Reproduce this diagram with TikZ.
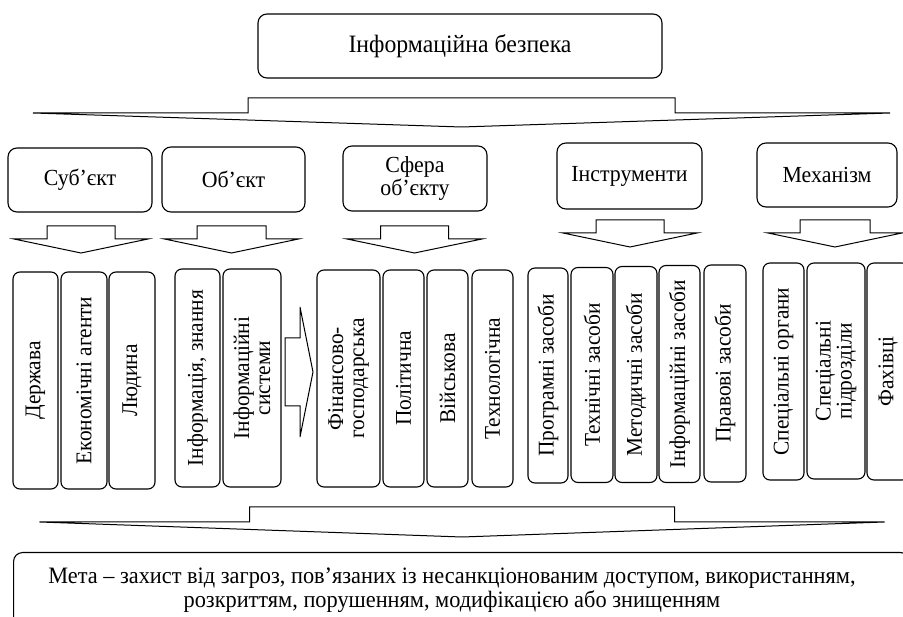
\documentclass[tikz,border=0pt]{standalone}
\usepackage{fontspec}
\setmainfont[FakeStretch=0.95]{Liberation Serif}
\usepackage{tikz}
\usetikzlibrary{calc, positioning}

% block arrow pointing down: centre x, half stem, half head, top, shoulder, tip
\newcommand{\blockdown}[6]{%
  \draw[arrline] ({#1-#2},#4) -- ({#1+#2},#4) -- ({#1+#2},#5) -- ({#1+#3},#5)
    -- (#1,#6) -- ({#1-#3},#5) -- ({#1-#2},#5) -- cycle;}

\begin{document}
\begin{tikzpicture}[x=1pt, y=-1pt,
    box/.style={draw, line width=1.1pt, rounded corners=9pt, align=center,
      inner sep=0pt, font=\fontsize{23}{24}\selectfont},
    vbox/.style={draw, line width=1.1pt, rounded corners=7pt, align=center,
      inner sep=0pt, rotate=90, font=\fontsize{22.5}{23}\selectfont},
    arrline/.style={line width=1pt, line join=miter}]
    \useasboundingbox (0,0) rectangle (903,617);
    \clip (0,0) rectangle (903,617);

    % Головний блок
    \node[box, minimum width=404pt, minimum height=64pt,
      font=\fontsize{25}{26}\selectfont] (ib) at (460,46) {Інформаційна безпека};
    \blockdown{461.5}{213.5}{428.5}{98}{113}{127}

    % Складові
    \node[box, minimum width=144pt, minimum height=64pt] (sub) at (80,180) {Суб’єкт};
    \node[box, minimum width=143pt, minimum height=65pt] (obj) at (233.5,179.5) {Об’єкт};
    \node[box, minimum width=144pt, minimum height=65pt] (sfera) at (415,178.5) {Сфера\\[-1pt]об’єкту};
    \node[box, minimum width=145pt, minimum height=66pt] (instr) at (629.5,176) {Інструменти};
    \node[box, minimum width=140pt, minimum height=64pt] (mekh) at (827,175) {Механізм};

    % Стрілки до стовпців
    \blockdown{81}{34}{67}{226}{239}{253}
    \blockdown{231.5}{34.5}{67}{226}{239}{253}
    \blockdown{414.5}{34}{67.5}{226}{239}{253}
    \blockdown{630}{34}{67}{220}{233}{247}
    \blockdown{835}{35}{67}{220}{233}{247}

    % Суб'єкт
    \node[vbox, minimum width=217pt, minimum height=45pt] (derzh) at (35.5,380.5) {Держава};
    \node[vbox, minimum width=217pt, minimum height=46pt] (ekon) at (84,380.5) {Економічні агенти};
    \node[vbox, minimum width=217pt, minimum height=46pt] (lyud) at (132,380.5) {Людина};

    % Об'єкт
    \node[vbox, minimum width=218pt, minimum height=45pt] (infzn) at (197.5,378) {Інформація, знання};
    \node[vbox, minimum width=218pt, minimum height=58pt] (infsys) at (252,378) {Інформаційні\\[-2pt]системи};
    \draw[arrline] (285,338) -- (300,338) -- (300,307) -- (313,372) -- (300,437)
      -- (300,406) -- (285,406) -- cycle;

    % Сфера об'єкту
    \node[vbox, minimum width=217pt, minimum height=63pt] (fin) at (348.5,378.5) {Фінансово-\\[-2pt]господарська};
    \node[vbox, minimum width=217pt, minimum height=41pt] (pol) at (403.5,378.5) {Політична};
    \node[vbox, minimum width=217pt, minimum height=41pt] (viysk) at (447.5,378.5) {Військова};
    \node[vbox, minimum width=217pt, minimum height=41pt] (tekh) at (492.5,378.5) {Технологічна};

    % Інструменти
    \node[vbox, minimum width=215pt, minimum height=40pt] (prog) at (548,375.5) {Програмні засоби};
    \node[vbox, minimum width=215pt, minimum height=42pt] (tekhz) at (592,375) {Технічні засоби};
    \node[vbox, minimum width=216pt, minimum height=42pt] (metod) at (636,374.5) {Методичні засоби};
    \node[vbox, minimum width=217pt, minimum height=41pt] (infz) at (679.5,374) {Інформаційні засоби};
    \node[vbox, minimum width=217pt, minimum height=42pt] (prav) at (725,373.5) {Правові засоби};

    % Механізм
    \node[vbox, minimum width=217pt, minimum height=41pt] (sporg) at (783.5,371.5) {Спеціальні органи};
    \node[vbox, minimum width=216pt, minimum height=58pt] (sppid) at (836,371) {Спеціальні\\[-2pt]підрозділи};
    \node[vbox, minimum width=217pt, minimum height=42pt] (fakh) at (888,371.5) {Фахівці};

    % Мета
    \blockdown{462}{212.5}{422.5}{507}{522}{537}
    \node[box, minimum width=896pt, minimum height=74pt, anchor=north west] (meta) at (13,552) {};
    \node[font=\fontsize{23.5}{24}\selectfont, align=center] (metatxt) at (452,590)
      {Мета – захист від загроз, пов’язаних із несанкціонованим доступом, використанням,\\
       розкриттям, порушенням, модифікацією або знищенням};
\end{tikzpicture}
\end{document}
